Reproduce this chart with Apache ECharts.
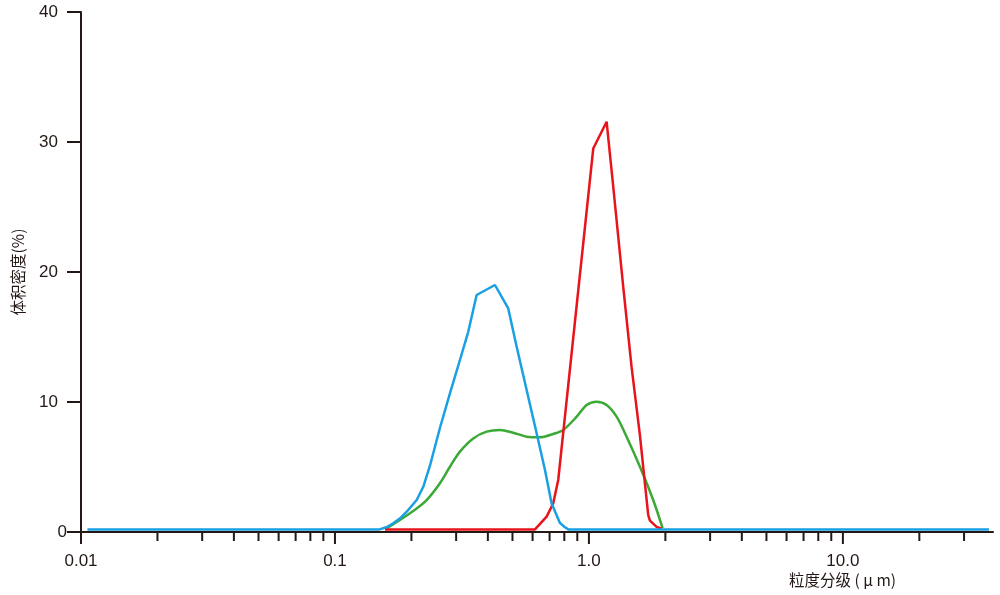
<!DOCTYPE html>
<html>
<head>
<meta charset="utf-8">
<script src="https://cdn.jsdelivr.net/npm/echarts@6/dist/echarts.min.js"></script>
<style>
html,body{margin:0;padding:0;background:#fff;}
#chart{width:1000px;height:595px;}
</style>
</head>
<body>
<div id="chart"></div>
<script>
// ---- data (particle size in µm, volume density in %) ----
var blueSizes  = [0.0106, 0.150, 0.160, 0.1696, 0.1805, 0.1916, 0.2098, 0.2227, 0.2366, 0.259, 0.2836, 0.3105, 0.3348, 0.3613, 0.4266, 0.4812, 0.5193, 0.5685, 0.6224, 0.6713, 0.713, 0.7688, 0.80, 0.829, 37.6];
var blueValues = [0.2, 0.2, 0.38, 0.67, 1.05, 1.56, 2.46, 3.48, 5.1, 8.0, 10.67, 13.23, 15.4, 18.23, 19.0, 17.2, 14.25, 10.92, 7.6, 4.77, 2.2, 0.7, 0.4, 0.2, 0.2];

var redSizes  = [0.1574, 0.6131, 0.6815, 0.7236, 0.757, 1.040, 1.1739, 1.2466, 1.3646, 1.472, 1.588, 1.712, 1.739, 1.847, 1.933];
var redValues = [0.2, 0.2, 1.18, 2.21, 4.0, 29.5, 31.56, 26.56, 18.87, 12.7, 7.44, 1.3, 0.87, 0.4, 0.25];

var greenSizes  = [0.1574, 0.1974, 0.2296, 0.259, 0.2836, 0.3105, 0.3503, 0.3955, 0.4463, 0.5035, 0.5685, 0.6412, 0.7236, 0.7925, 0.8948, 0.9795, 1.0723, 1.1739, 1.2853, 1.407, 1.588, 1.791, 1.95];
var greenValues = [0.2, 1.44, 2.46, 3.75, 5.02, 6.18, 7.2, 7.72, 7.85, 7.64, 7.33, 7.28, 7.54, 7.85, 8.87, 9.77, 10.02, 9.77, 8.87, 7.33, 5.02, 2.46, 0.3];

var xMajorTicks  = [0.01, 0.1, 1, 10];
var xTickLabels  = ['0.01', '0.1', '1.0', '10.0'];
var xMinorTicks  = [0.02, 0.03, 0.04, 0.05, 0.06, 0.07, 0.08, 0.09,
                    0.2, 0.3, 0.4, 0.5, 0.6, 0.7, 0.8, 0.9,
                    2, 3, 4, 5, 6, 7, 8, 9,
                    20, 30];

function pairs(xs, ys) { return xs.map(function (x, i) { return [x, ys[i]]; }); }

var ink = '#231815';
var numFont = "'Liberation Sans', Arial, sans-serif";
var cjkFont = "'Noto Sans CJK SC', 'Noto Sans', sans-serif";

var tickData = xMajorTicks.map(function (v) { return [v, 0, 1]; })
  .concat(xMinorTicks.map(function (v) { return [v, 0, 0]; }));

var chart = echarts.init(document.getElementById('chart'));
chart.setOption({
  animation: false,
  backgroundColor: '#fff',
  grid: { left: 81, right: 7, top: 12, bottom: 63, containLabel: false },
  xAxis: {
    type: 'log', logBase: 10, min: 0.01, max: 39,
    axisLine: { show: true, lineStyle: { color: ink, width: 2 } },
    axisTick: { show: false },
    splitLine: { show: false },
    minorTick: { show: false },
    axisLabel: {
      color: ink, fontFamily: numFont, fontSize: 17, margin: 21,
      showMinLabel: true, showMaxLabel: false,
      formatter: function (v) {
        for (var i = 0; i < xMajorTicks.length; i++) {
          if (Math.abs(Math.log10(v) - Math.log10(xMajorTicks[i])) < 1e-6) return xTickLabels[i];
        }
        return '';
      }
    }
  },
  yAxis: {
    type: 'value', min: 0, max: 40, interval: 10,
    name: '体积密度(%)', nameLocation: 'middle', nameGap: 55, nameRotate: 90,
    nameTextStyle: { color: ink, fontFamily: cjkFont, fontSize: 15.5 },
    axisLine: { show: true, lineStyle: { color: ink, width: 2 } },
    axisTick: { show: true, inside: false, length: 14, lineStyle: { color: ink, width: 2 } },
    splitLine: { show: false },
    axisLabel: {
      color: ink, fontFamily: numFont, fontSize: 17, margin: 14,
      formatter: function (v) { return v === 0 ? '{z|0}' : '{n|' + v + '}'; },
      rich: {
        z: { fontFamily: numFont, fontSize: 17, color: ink },
        n: { fontFamily: numFont, fontSize: 17, color: ink, padding: [0, 9, 0, 0] }
      }
    }
  },
  graphic: [{
    type: 'text', left: 789, top: 572,
    style: { text: '粒度分级 ( μ m)', fill: ink, font: "15.5px 'Noto Sans CJK SC', sans-serif" }
  }],
  series: [
    {
      type: 'custom', name: 'ticks', clip: false, silent: true, z: 1,
      data: tickData,
      renderItem: function (params, api) {
        var p = api.coord([api.value(0), 0]);
        var len = api.value(2) ? 12 : 9;
        return {
          type: 'line',
          shape: { x1: p[0], y1: p[1], x2: p[0], y2: p[1] + len },
          style: { stroke: ink, lineWidth: 2 }
        };
      }
    },
    {
      type: 'line', name: 'green', data: pairs(greenSizes, greenValues),
      smooth: 0.3, symbol: 'none', z: 3,
      lineStyle: { color: '#3aa935', width: 2.5 }
    },
    {
      type: 'line', name: 'red', data: pairs(redSizes, redValues),
      smooth: false, symbol: 'none', z: 4,
      lineStyle: { color: '#e8141c', width: 2.5 }
    },
    {
      type: 'line', name: 'blue', data: pairs(blueSizes, blueValues),
      smooth: false, symbol: 'none', z: 5,
      lineStyle: { color: '#19a0e2', width: 2.5 }
    }
  ]
});
</script>
</body>
</html>
